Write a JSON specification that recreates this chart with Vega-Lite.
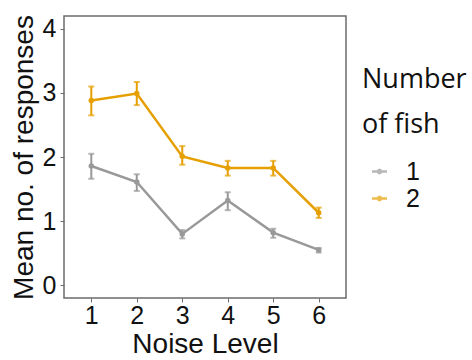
{
  "$schema": "https://vega.github.io/schema/vega-lite/v6.json",
  "width": 282,
  "height": 282,
  "autosize": {"type": "none"},
  "padding": {"left": 64, "top": 16, "right": 126, "bottom": 62},
  "background": "white",
  "config": {
    "view": {"stroke": "#6b6b6b", "strokeWidth": 1.5},
    "font": "Liberation Sans",
    "axis": {
      "domain": false,
      "grid": false,
      "tickColor": "#6b6b6b",
      "tickSize": 4,
      "tickWidth": 1,
      "labelFont": "Liberation Sans",
      "labelFontSize": 25,
      "labelColor": "#111",
      "titleFont": "Liberation Sans",
      "titleFontSize": 28,
      "titleFontWeight": "normal",
      "titleColor": "#111"
    }
  },
  "data": {
    "values": [
      {"noise": 1, "fish": "1", "mean": 1.86, "lo": 1.66, "hi": 2.05},
      {"noise": 2, "fish": "1", "mean": 1.61, "lo": 1.47, "hi": 1.73},
      {"noise": 3, "fish": "1", "mean": 0.80, "lo": 0.73, "hi": 0.86},
      {"noise": 4, "fish": "1", "mean": 1.32, "lo": 1.17, "hi": 1.45},
      {"noise": 5, "fish": "1", "mean": 0.82, "lo": 0.74, "hi": 0.88},
      {"noise": 6, "fish": "1", "mean": 0.55, "lo": 0.51, "hi": 0.58},
      {"noise": 1, "fish": "2", "mean": 2.88, "lo": 2.65, "hi": 3.10},
      {"noise": 2, "fish": "2", "mean": 2.99, "lo": 2.81, "hi": 3.17},
      {"noise": 3, "fish": "2", "mean": 2.01, "lo": 1.88, "hi": 2.17},
      {"noise": 4, "fish": "2", "mean": 1.83, "lo": 1.71, "hi": 1.94},
      {"noise": 5, "fish": "2", "mean": 1.83, "lo": 1.71, "hi": 1.94},
      {"noise": 6, "fish": "2", "mean": 1.13, "lo": 1.05, "hi": 1.21}
    ]
  },
  "encoding": {
    "x": {
      "field": "noise",
      "type": "quantitative",
      "scale": {"domain": [0.4, 6.6], "nice": false, "zero": false},
      "axis": {"values": [1, 2, 3, 4, 5, 6], "format": "d", "title": "Noise Level", "labelPadding": 1, "titlePadding": 2}
    },
    "color": {
      "field": "fish",
      "type": "nominal",
      "scale": {"domain": ["1", "2"], "range": ["#999999", "#E69F00"]},
      "legend": {
        "orient": "none",
        "legendX": 298,
        "legendY": 51,
        "title": ["Number", "of fish"],
        "titleFont": "Open Sans",
        "titleFontSize": 27,
        "titleFontWeight": "normal",
        "titleColor": "#111",
        "titleLineHeight": 45,
        "titlePadding": 20,
        "labelFont": "Liberation Sans",
        "labelFontSize": 25,
        "labelColor": "#111",
        "labelOffset": 14,
        "symbolOffset": 5,
        "symbolType": "M-1,-0.16L1,-0.16L1,0.16L-1,0.16ZM-0.4,0L-0.28,-0.28L0,-0.4L0.28,-0.28L0.4,0L0.28,0.28L0,0.4L-0.28,0.28Z",
        "symbolSize": 225,
        "symbolStrokeWidth": 0,
        "rowPadding": 1
      }
    }
  },
  "layer": [
    {
      "mark": {"type": "rule", "strokeWidth": 2},
      "encoding": {
        "y": {"field": "lo", "type": "quantitative"},
        "y2": {"field": "hi"}
      }
    },
    {
      "mark": {"type": "tick", "orient": "horizontal", "size": 6, "thickness": 2},
      "encoding": {"y": {"field": "lo", "type": "quantitative"}}
    },
    {
      "mark": {"type": "tick", "orient": "horizontal", "size": 6, "thickness": 2},
      "encoding": {"y": {"field": "hi", "type": "quantitative"}}
    },
    {
      "mark": {"type": "line", "strokeWidth": 2.5},
      "encoding": {
        "y": {
          "field": "mean",
          "type": "quantitative",
          "scale": {"domain": [-0.2, 4.2], "nice": false, "zero": false},
          "axis": {"values": [0, 1, 2, 3, 4], "format": "d", "title": "Mean no. of responses", "labelPadding": 4, "titlePadding": 4}
        }
      }
    },
    {
      "mark": {"type": "point", "filled": true, "opacity": 1, "size": 30},
      "encoding": {"y": {"field": "mean", "type": "quantitative"}}
    }
  ]
}
